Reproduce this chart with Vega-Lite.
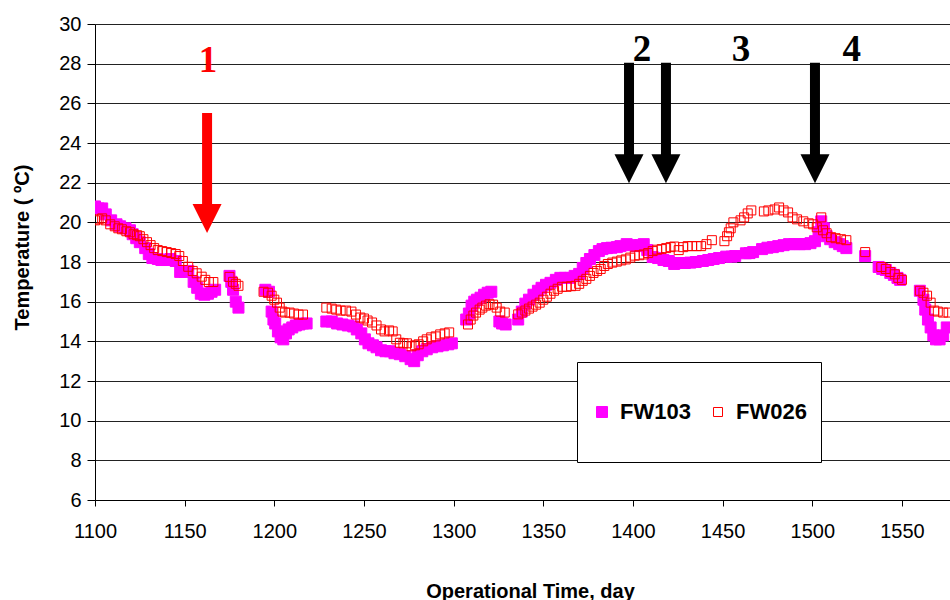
{
  "$schema": "https://vega.github.io/schema/vega-lite/v6.json",
  "width": 855,
  "height": 476,
  "autosize": {"type": "none"},
  "padding": {"left": 95, "top": 24, "right": 0, "bottom": 100},
  "background": "white",
  "config": {
    "view": {"stroke": null},
    "font": "Liberation Sans",
    "axisX": {
      "grid": false,
      "domainColor": "#000", "domainWidth": 1,
      "tickColor": "#000", "tickSize": 6,
      "labelFont": "Liberation Sans", "labelFontSize": 20, "labelColor": "#000", "labelPadding": 15,
      "labelFlush": false, "labelOverlap": false,
      "titleFont": "Liberation Sans", "titleFontSize": 20, "titleFontWeight": "bold", "titleColor": "#000",
      "titleX": 435, "titleY": 97, "titleBaseline": "alphabetic", "titleAlign": "center"
    },
    "axisY": {
      "grid": true, "gridColor": "#222", "gridWidth": 1, "gridOpacity": 1,
      "domainColor": "#000", "domainWidth": 1,
      "tickColor": "#000", "tickSize": 8,
      "labelFont": "Liberation Sans", "labelFontSize": 20, "labelColor": "#000", "labelPadding": 6,
      "labelFlush": false, "labelOverlap": false,
      "titleFont": "Liberation Sans", "titleFontSize": 20, "titleFontWeight": "bold", "titleColor": "#000",
      "titleAngle": -90, "titleX": -73, "titleY": 223, "titleAlign": "center", "titleBaseline": "middle"
    }
  },
  "layer": [
    {
      "data": {"values": [
        {"series":"FW103","day":1100,"temp":20.8},{"series":"FW103","day":1102,"temp":20.7},{"series":"FW103","day":1104,"temp":20.7},{"series":"FW103","day":1106,"temp":20.4},{"series":"FW103","day":1109,"temp":20.1},{"series":"FW103","day":1112,"temp":19.9},{"series":"FW103","day":1114,"temp":19.8},{"series":"FW103","day":1117,"temp":19.7},{"series":"FW103","day":1119.5,"temp":19.6},{"series":"FW103","day":1121,"temp":19.4},{"series":"FW103","day":1123,"temp":19.2},{"series":"FW103","day":1125,"temp":19.0},{"series":"FW103","day":1128,"temp":18.7},{"series":"FW103","day":1130,"temp":18.4},{"series":"FW103","day":1132,"temp":18.2},{"series":"FW103","day":1135,"temp":18.15},{"series":"FW103","day":1137,"temp":18.1},{"series":"FW103","day":1140,"temp":18.1},{"series":"FW103","day":1142,"temp":18.15},{"series":"FW103","day":1145,"temp":18.05},{"series":"FW103","day":1147.5,"temp":17.5},{"series":"FW103","day":1150,"temp":17.5},{"series":"FW103","day":1152,"temp":17.55},{"series":"FW103","day":1155,"temp":17.0},{"series":"FW103","day":1157,"temp":16.7},{"series":"FW103","day":1159,"temp":16.4},{"series":"FW103","day":1161,"temp":16.35},{"series":"FW103","day":1163,"temp":16.4},{"series":"FW103","day":1165,"temp":16.5},{"series":"FW103","day":1167,"temp":16.6},{"series":"FW103","day":1175,"temp":17.3},{"series":"FW103","day":1176,"temp":17.0},{"series":"FW103","day":1177,"temp":16.6},{"series":"FW103","day":1178.5,"temp":16.0},{"series":"FW103","day":1180,"temp":15.7},
        {"series":"FW103","day":1195,"temp":16.6},{"series":"FW103","day":1197,"temp":16.5},{"series":"FW103","day":1198.5,"temp":15.5},{"series":"FW103","day":1199.5,"temp":15.1},{"series":"FW103","day":1200.5,"temp":14.9},{"series":"FW103","day":1202,"temp":14.5},{"series":"FW103","day":1203.5,"temp":14.2},{"series":"FW103","day":1205,"temp":14.1},{"series":"FW103","day":1206.5,"temp":14.4},{"series":"FW103","day":1208,"temp":14.6},{"series":"FW103","day":1210,"temp":14.7},{"series":"FW103","day":1212,"temp":14.8},{"series":"FW103","day":1214,"temp":14.85},{"series":"FW103","day":1216,"temp":14.9},{"series":"FW103","day":1218,"temp":14.9},
        {"series":"FW103","day":1229,"temp":15.0},{"series":"FW103","day":1232,"temp":15.0},{"series":"FW103","day":1235,"temp":14.9},{"series":"FW103","day":1238,"temp":14.85},{"series":"FW103","day":1241,"temp":14.8},{"series":"FW103","day":1244,"temp":14.75},{"series":"FW103","day":1246,"temp":14.6},{"series":"FW103","day":1248.5,"temp":14.4},{"series":"FW103","day":1250.5,"temp":14.1},{"series":"FW103","day":1252.5,"temp":13.9},{"series":"FW103","day":1255,"temp":13.8},{"series":"FW103","day":1257,"temp":13.7},{"series":"FW103","day":1259.5,"temp":13.55},{"series":"FW103","day":1262,"temp":13.5},{"series":"FW103","day":1264.5,"temp":13.5},{"series":"FW103","day":1267,"temp":13.4},{"series":"FW103","day":1270,"temp":13.35},{"series":"FW103","day":1273,"temp":13.25},{"series":"FW103","day":1276,"temp":13.1},{"series":"FW103","day":1278,"temp":13.0},{"series":"FW103","day":1280,"temp":13.3},{"series":"FW103","day":1282.5,"temp":13.5},{"series":"FW103","day":1285,"temp":13.6},{"series":"FW103","day":1288,"temp":13.7},{"series":"FW103","day":1291,"temp":13.75},{"series":"FW103","day":1294,"temp":13.8},{"series":"FW103","day":1297,"temp":13.85},{"series":"FW103","day":1299,"temp":13.9},
        {"series":"FW103","day":1307,"temp":15.1},{"series":"FW103","day":1308.5,"temp":15.4},{"series":"FW103","day":1310,"temp":15.8},{"series":"FW103","day":1311.5,"temp":16.0},{"series":"FW103","day":1313,"temp":16.1},{"series":"FW103","day":1315,"temp":16.2},{"series":"FW103","day":1317,"temp":16.35},{"series":"FW103","day":1319,"temp":16.45},{"series":"FW103","day":1321,"temp":16.5},{"series":"FW103","day":1325.5,"temp":15.0},{"series":"FW103","day":1327,"temp":14.9},{"series":"FW103","day":1329,"temp":14.85},
        {"series":"FW103","day":1336,"temp":15.1},{"series":"FW103","day":1338,"temp":15.5},{"series":"FW103","day":1340,"temp":15.9},{"series":"FW103","day":1342,"temp":16.1},{"series":"FW103","day":1344.5,"temp":16.35},{"series":"FW103","day":1347,"temp":16.55},{"series":"FW103","day":1349,"temp":16.7},{"series":"FW103","day":1351.5,"temp":16.85},{"series":"FW103","day":1354,"temp":16.95},{"series":"FW103","day":1357,"temp":17.1},{"series":"FW103","day":1359.5,"temp":17.2},{"series":"FW103","day":1362,"temp":17.2},{"series":"FW103","day":1365,"temp":17.2},{"series":"FW103","day":1367.5,"temp":17.3},{"series":"FW103","day":1370,"temp":17.4},{"series":"FW103","day":1372,"temp":17.7},{"series":"FW103","day":1374,"temp":17.95},{"series":"FW103","day":1376,"temp":18.15},{"series":"FW103","day":1378.5,"temp":18.35},{"series":"FW103","day":1381,"temp":18.55},{"series":"FW103","day":1383,"temp":18.65},{"series":"FW103","day":1385.5,"temp":18.7},{"series":"FW103","day":1388,"temp":18.72},{"series":"FW103","day":1391,"temp":18.75},{"series":"FW103","day":1393,"temp":18.8},{"series":"FW103","day":1396.5,"temp":18.9},{"series":"FW103","day":1399,"temp":18.85},{"series":"FW103","day":1402,"temp":18.8},{"series":"FW103","day":1404,"temp":18.85},{"series":"FW103","day":1406,"temp":18.9},{"series":"FW103","day":1408,"temp":18.6},{"series":"FW103","day":1411,"temp":18.25},{"series":"FW103","day":1414,"temp":18.2},{"series":"FW103","day":1417,"temp":18.1},{"series":"FW103","day":1420,"temp":18.05},{"series":"FW103","day":1423,"temp":17.9},{"series":"FW103","day":1426,"temp":17.95},{"series":"FW103","day":1429,"temp":17.95},{"series":"FW103","day":1432,"temp":17.97},{"series":"FW103","day":1435,"temp":18.0},{"series":"FW103","day":1439,"temp":18.05},{"series":"FW103","day":1442,"temp":18.1},{"series":"FW103","day":1445,"temp":18.15},{"series":"FW103","day":1448,"temp":18.2},{"series":"FW103","day":1452,"temp":18.27},{"series":"FW103","day":1455,"temp":18.27},{"series":"FW103","day":1457,"temp":18.3},{"series":"FW103","day":1463,"temp":18.44},{"series":"FW103","day":1465,"temp":18.45},{"series":"FW103","day":1467,"temp":18.5},{"series":"FW103","day":1472,"temp":18.65},{"series":"FW103","day":1475,"temp":18.72},{"series":"FW103","day":1478,"temp":18.75},{"series":"FW103","day":1481,"temp":18.8},{"series":"FW103","day":1484,"temp":18.85},{"series":"FW103","day":1487,"temp":18.9},{"series":"FW103","day":1490,"temp":18.9},{"series":"FW103","day":1493,"temp":18.9},{"series":"FW103","day":1496,"temp":18.9},{"series":"FW103","day":1499,"temp":18.95},{"series":"FW103","day":1501.5,"temp":19.05},{"series":"FW103","day":1503.5,"temp":19.5},{"series":"FW103","day":1505,"temp":20.05},{"series":"FW103","day":1506.5,"temp":19.7},{"series":"FW103","day":1508,"temp":19.3},{"series":"FW103","day":1510,"temp":19.15},{"series":"FW103","day":1512.5,"temp":19.0},{"series":"FW103","day":1515,"temp":18.9},{"series":"FW103","day":1517,"temp":18.8},{"series":"FW103","day":1519,"temp":18.7},{"series":"FW103","day":1529.5,"temp":18.3},{"series":"FW103","day":1537,"temp":17.75},{"series":"FW103","day":1539,"temp":17.65},{"series":"FW103","day":1541,"temp":17.6},{"series":"FW103","day":1543.5,"temp":17.45},{"series":"FW103","day":1545.5,"temp":17.35},{"series":"FW103","day":1547.5,"temp":17.2},{"series":"FW103","day":1549,"temp":17.1},{"series":"FW103","day":1560,"temp":16.55},{"series":"FW103","day":1562,"temp":16.1},{"series":"FW103","day":1563,"temp":15.6},{"series":"FW103","day":1564.5,"temp":15.1},{"series":"FW103","day":1566,"temp":14.7},{"series":"FW103","day":1567.5,"temp":14.3},{"series":"FW103","day":1569,"temp":14.1},{"series":"FW103","day":1571,"temp":14.1},{"series":"FW103","day":1573,"temp":14.3},{"series":"FW103","day":1575,"temp":14.7},
        {"series":"FW026","day":1100,"temp":20.1},{"series":"FW026","day":1102,"temp":20.15},{"series":"FW026","day":1104,"temp":20.2},{"series":"FW026","day":1106,"temp":20.1},{"series":"FW026","day":1108.5,"temp":19.9},{"series":"FW026","day":1111,"temp":19.8},{"series":"FW026","day":1113,"temp":19.7},{"series":"FW026","day":1115,"temp":19.65},{"series":"FW026","day":1117.5,"temp":19.55},{"series":"FW026","day":1119.5,"temp":19.5},{"series":"FW026","day":1121.5,"temp":19.4},{"series":"FW026","day":1123.5,"temp":19.35},{"series":"FW026","day":1125,"temp":19.3},{"series":"FW026","day":1127,"temp":19.15},{"series":"FW026","day":1129,"temp":19.0},{"series":"FW026","day":1131,"temp":18.85},{"series":"FW026","day":1133,"temp":18.7},{"series":"FW026","day":1135,"temp":18.6},{"series":"FW026","day":1137.5,"temp":18.55},{"series":"FW026","day":1140,"temp":18.5},{"series":"FW026","day":1142.5,"temp":18.45},{"series":"FW026","day":1145,"temp":18.4},{"series":"FW026","day":1147,"temp":18.3},{"series":"FW026","day":1149,"temp":18.05},{"series":"FW026","day":1152,"temp":17.76},{"series":"FW026","day":1154.5,"temp":17.55},{"series":"FW026","day":1156.7,"temp":17.43},{"series":"FW026","day":1159.5,"temp":17.26},{"series":"FW026","day":1161.5,"temp":17.1},{"series":"FW026","day":1163.5,"temp":16.99},{"series":"FW026","day":1166,"temp":16.99},{"series":"FW026","day":1175,"temp":17.25},{"series":"FW026","day":1177,"temp":17.0},{"series":"FW026","day":1178.5,"temp":16.9},{"series":"FW026","day":1180,"temp":16.8},
        {"series":"FW026","day":1194,"temp":16.5},{"series":"FW026","day":1196.5,"temp":16.45},{"series":"FW026","day":1198.5,"temp":16.3},{"series":"FW026","day":1200,"temp":16.1},{"series":"FW026","day":1201.5,"temp":15.95},{"series":"FW026","day":1203,"temp":15.7},{"series":"FW026","day":1204.5,"temp":15.5},{"series":"FW026","day":1206,"temp":15.45},{"series":"FW026","day":1208.5,"temp":15.45},{"series":"FW026","day":1211,"temp":15.4},{"series":"FW026","day":1213.5,"temp":15.35},{"series":"FW026","day":1216,"temp":15.35},
        {"series":"FW026","day":1229,"temp":15.7},{"series":"FW026","day":1232,"temp":15.65},{"series":"FW026","day":1234.5,"temp":15.6},{"series":"FW026","day":1237,"temp":15.55},{"series":"FW026","day":1240,"temp":15.55},{"series":"FW026","day":1243,"temp":15.5},{"series":"FW026","day":1245.5,"temp":15.35},{"series":"FW026","day":1248,"temp":15.2},{"series":"FW026","day":1250,"temp":15.15},{"series":"FW026","day":1252,"temp":15.05},{"series":"FW026","day":1254.5,"temp":14.95},{"series":"FW026","day":1257,"temp":14.8},{"series":"FW026","day":1259.5,"temp":14.6},{"series":"FW026","day":1261.5,"temp":14.5},{"series":"FW026","day":1264,"temp":14.55},{"series":"FW026","day":1266,"temp":14.5},{"series":"FW026","day":1268,"temp":14.1},{"series":"FW026","day":1270,"temp":13.93},{"series":"FW026","day":1272,"temp":13.9},{"series":"FW026","day":1274,"temp":13.9},{"series":"FW026","day":1276.5,"temp":13.75},{"series":"FW026","day":1278.5,"temp":13.8},{"series":"FW026","day":1280.5,"temp":13.85},{"series":"FW026","day":1283,"temp":14.0},{"series":"FW026","day":1285,"temp":14.1},{"series":"FW026","day":1287.5,"temp":14.2},{"series":"FW026","day":1290,"temp":14.25},{"series":"FW026","day":1292.5,"temp":14.35},{"series":"FW026","day":1295,"temp":14.4},{"series":"FW026","day":1297.5,"temp":14.45},
        {"series":"FW026","day":1308,"temp":14.85},{"series":"FW026","day":1309.5,"temp":15.1},{"series":"FW026","day":1311,"temp":15.3},{"series":"FW026","day":1312.5,"temp":15.45},{"series":"FW026","day":1314.5,"temp":15.6},{"series":"FW026","day":1316,"temp":15.7},{"series":"FW026","day":1318,"temp":15.8},{"series":"FW026","day":1320,"temp":15.87},{"series":"FW026","day":1322,"temp":15.85},{"series":"FW026","day":1324,"temp":15.7},{"series":"FW026","day":1326,"temp":15.5},{"series":"FW026","day":1328.5,"temp":15.45},
        {"series":"FW026","day":1336,"temp":15.36},{"series":"FW026","day":1338,"temp":15.45},{"series":"FW026","day":1340,"temp":15.55},{"series":"FW026","day":1342,"temp":15.65},{"series":"FW026","day":1344,"temp":15.75},{"series":"FW026","day":1346,"temp":15.85},{"series":"FW026","day":1348,"temp":15.95},{"series":"FW026","day":1350,"temp":16.1},{"series":"FW026","day":1352,"temp":16.25},{"series":"FW026","day":1354,"temp":16.4},{"series":"FW026","day":1356,"temp":16.55},{"series":"FW026","day":1358,"temp":16.65},{"series":"FW026","day":1360.5,"temp":16.75},{"series":"FW026","day":1363,"temp":16.75},{"series":"FW026","day":1365.5,"temp":16.78},{"series":"FW026","day":1368,"temp":16.8},{"series":"FW026","day":1370,"temp":16.9},{"series":"FW026","day":1372,"temp":17.05},{"series":"FW026","day":1374,"temp":17.15},{"series":"FW026","day":1376,"temp":17.3},{"series":"FW026","day":1378,"temp":17.45},{"series":"FW026","day":1380,"temp":17.55},{"series":"FW026","day":1382,"temp":17.65},{"series":"FW026","day":1384,"temp":17.8},{"series":"FW026","day":1386,"temp":17.9},{"series":"FW026","day":1388.5,"temp":17.97},{"series":"FW026","day":1391,"temp":18.02},{"series":"FW026","day":1393.5,"temp":18.08},{"series":"FW026","day":1396,"temp":18.13},{"series":"FW026","day":1398.5,"temp":18.22},{"series":"FW026","day":1401,"temp":18.32},{"series":"FW026","day":1403.5,"temp":18.34},{"series":"FW026","day":1406,"temp":18.38},{"series":"FW026","day":1408.5,"temp":18.45},{"series":"FW026","day":1411,"temp":18.55},{"series":"FW026","day":1413.5,"temp":18.62},{"series":"FW026","day":1416,"temp":18.65},{"series":"FW026","day":1418.5,"temp":18.7},{"series":"FW026","day":1421,"temp":18.75},{"series":"FW026","day":1423,"temp":18.78},{"series":"FW026","day":1425.5,"temp":18.6},{"series":"FW026","day":1428,"temp":18.75},{"series":"FW026","day":1430.5,"temp":18.8},{"series":"FW026","day":1433,"temp":18.8},{"series":"FW026","day":1435.5,"temp":18.8},{"series":"FW026","day":1438,"temp":18.8},{"series":"FW026","day":1441,"temp":18.9},{"series":"FW026","day":1444,"temp":19.1},{"series":"FW026","day":1451,"temp":19.05},{"series":"FW026","day":1452.5,"temp":19.3},{"series":"FW026","day":1453.5,"temp":19.5},{"series":"FW026","day":1454.5,"temp":19.7},{"series":"FW026","day":1456,"temp":20.0},{"series":"FW026","day":1460,"temp":20.1},{"series":"FW026","day":1462,"temp":20.25},{"series":"FW026","day":1464,"temp":20.45},{"series":"FW026","day":1466,"temp":20.6},{"series":"FW026","day":1473,"temp":20.55},{"series":"FW026","day":1475.5,"temp":20.6},{"series":"FW026","day":1479,"temp":20.65},{"series":"FW026","day":1481.5,"temp":20.75},{"series":"FW026","day":1484,"temp":20.6},{"series":"FW026","day":1486.5,"temp":20.5},{"series":"FW026","day":1489,"temp":20.25},{"series":"FW026","day":1491.5,"temp":20.15},{"series":"FW026","day":1495,"temp":20.05},{"series":"FW026","day":1498,"temp":19.95},{"series":"FW026","day":1500.5,"temp":19.9},{"series":"FW026","day":1502.5,"temp":19.75},{"series":"FW026","day":1505,"temp":20.25},{"series":"FW026","day":1506,"temp":19.6},{"series":"FW026","day":1508,"temp":19.45},{"series":"FW026","day":1510.5,"temp":19.25},{"series":"FW026","day":1513,"temp":19.2},{"series":"FW026","day":1516,"temp":19.15},{"series":"FW026","day":1519,"temp":19.1},{"series":"FW026","day":1529.5,"temp":18.5},{"series":"FW026","day":1538.5,"temp":17.75},{"series":"FW026","day":1541,"temp":17.65},{"series":"FW026","day":1543.5,"temp":17.5},{"series":"FW026","day":1546,"temp":17.38},{"series":"FW026","day":1548,"temp":17.2},{"series":"FW026","day":1550,"temp":17.1},{"series":"FW026","day":1560,"temp":16.55},{"series":"FW026","day":1562,"temp":16.45},{"series":"FW026","day":1564,"temp":16.3},{"series":"FW026","day":1566,"temp":15.95},{"series":"FW026","day":1568,"temp":15.55},{"series":"FW026","day":1570,"temp":15.5},{"series":"FW026","day":1573,"temp":15.45},{"series":"FW026","day":1576,"temp":15.45}
      ]},
      "mark": {"type": "point", "shape": "square", "opacity": 1, "strokeWidth": 1, "clip": true},
      "encoding": {
        "x": {
          "field": "day", "type": "quantitative",
          "scale": {"domain": [1100, 1576.8], "nice": false, "zero": false},
          "axis": {"values": [1100, 1150, 1200, 1250, 1300, 1350, 1400, 1450, 1500, 1550], "format": "d", "title": "Operational Time, day"}
        },
        "y": {
          "field": "temp", "type": "quantitative",
          "scale": {"domain": [6, 30], "nice": false, "zero": false},
          "axis": {"values": [6, 8, 10, 12, 14, 16, 18, 20, 22, 24, 26, 28, 30], "title": "Temperature ( ºC)"}
        },
        "fill": {
          "field": "series", "type": "nominal",
          "scale": {"domain": ["FW103", "FW026"], "range": ["#FF00FF", "transparent"]},
          "legend": {
            "title": null, "orient": "none", "legendX": 482, "legendY": 338,
            "direction": "horizontal",
            "strokeColor": "#000", "fillColor": "#FFFFFF", "padding": 14,
            "clipHeight": 72, "columnPadding": 16, "labelOffset": 7,
            "labelFont": "Liberation Sans", "labelFontSize": 22, "labelFontWeight": "bold", "labelColor": "#000",
            "symbolType": "square", "symbolStrokeWidth": 1
          }
        },
        "stroke": {
          "field": "series", "type": "nominal",
          "scale": {"domain": ["FW103", "FW026"], "range": ["#FF00FF", "#FF0000"]}
        },
        "size": {
          "field": "series", "type": "nominal",
          "scale": {"domain": ["FW103", "FW026"], "range": [121, 81]}
        }
      }
    },
    {
      "data": {"values": [
        {"n": "1", "day": 1162.5, "top": 25.51, "head": 20.87, "tip": 19.46},
        {"n": "2", "day": 1397.8, "top": 28.05, "head": 23.39, "tip": 21.97},
        {"n": "3", "day": 1418.4, "top": 28.05, "head": 23.39, "tip": 21.97},
        {"n": "4", "day": 1501.5, "top": 28.05, "head": 23.39, "tip": 21.97}
      ]},
      "layer": [
        {
          "mark": {"type": "rule", "strokeWidth": 10, "strokeCap": "butt"},
          "encoding": {
            "x": {"field": "day", "type": "quantitative", "axis": {"values": [1100, 1150, 1200, 1250, 1300, 1350, 1400, 1450, 1500, 1550], "format": "d", "title": "Operational Time, day"}},
            "y": {"field": "top", "type": "quantitative", "axis": {"values": [6, 8, 10, 12, 14, 16, 18, 20, 22, 24, 26, 28, 30], "title": "Temperature ( ºC)"}},
            "y2": {"field": "head"},
            "color": {"field": "n", "type": "nominal", "scale": {"domain": ["1", "2", "3", "4"], "range": ["#FF0000", "#000000", "#000000", "#000000"]}, "legend": null}
          }
        },
        {
          "mark": {"type": "point", "shape": "M -1 -2 L 1 -2 L 0 0 Z", "filled": true, "opacity": 1, "size": 841, "strokeWidth": 0},
          "encoding": {
            "x": {"field": "day", "type": "quantitative", "axis": {"values": [1100, 1150, 1200, 1250, 1300, 1350, 1400, 1450, 1500, 1550], "format": "d", "title": "Operational Time, day"}},
            "y": {"field": "tip", "type": "quantitative", "axis": {"values": [6, 8, 10, 12, 14, 16, 18, 20, 22, 24, 26, 28, 30], "title": "Temperature ( ºC)"}},
            "color": {"field": "n", "type": "nominal", "scale": {"domain": ["1", "2", "3", "4"], "range": ["#FF0000", "#000000", "#000000", "#000000"]}, "legend": null}
          }
        }
      ]
    },
    {
      "data": {"values": [
        {"n": "1", "day": 1163.0, "ly": 28.13},
        {"n": "2", "day": 1405.0, "ly": 28.71},
        {"n": "3", "day": 1460.2, "ly": 28.71},
        {"n": "4", "day": 1522.0, "ly": 28.71}
      ]},
      "mark": {"type": "text", "font": "Liberation Serif", "fontSize": 37, "fontWeight": "bold", "baseline": "middle", "align": "center"},
      "encoding": {
        "x": {"field": "day", "type": "quantitative", "axis": {"values": [1100, 1150, 1200, 1250, 1300, 1350, 1400, 1450, 1500, 1550], "format": "d", "title": "Operational Time, day"}},
        "y": {"field": "ly", "type": "quantitative", "axis": {"values": [6, 8, 10, 12, 14, 16, 18, 20, 22, 24, 26, 28, 30], "title": "Temperature ( ºC)"}},
        "text": {"field": "n"},
        "color": {"field": "n", "type": "nominal", "scale": {"domain": ["1", "2", "3", "4"], "range": ["#FF0000", "#000000", "#000000", "#000000"]}, "legend": null}
      }
    }
  ]
}
